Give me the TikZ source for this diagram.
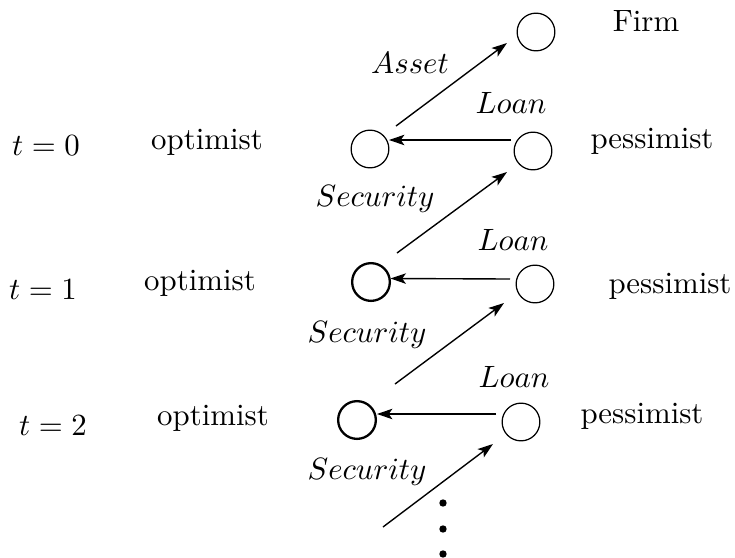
\documentclass[tikz,border=0pt]{standalone}
\usepackage{amsmath}
\usetikzlibrary{arrows.meta,positioning}

\begin{document}
\begin{tikzpicture}[x=0.0114cm,y=-0.0114cm,
  agent/.style={draw,circle,inner sep=0pt,minimum size=0.43cm},
  agentthick/.style={agent,line width=0.75pt},
  flow/.style={line width=0.45pt,-{Stealth[length=5pt,width=3.4pt,inset=1.2pt]}}]
  \useasboundingbox (0,0) rectangle (735,558);

  % the firm
  \node[agent] (firm) at (536,32) {};
  \node (firmlab) at (646,21) {Firm};

  % time rows
  \foreach \i/\tx/\ty/\ox/\oy/\px/\py in {0/46/146/207/142/652/141,
    1/43/290/200/283/670/286, 2/53/426/213/418/642/416} {
    \node (t\i) at (\tx,\ty) {$t=\i$};
    \node (optlab\i) at (\ox,\oy) {optimist};
    \node (peslab\i) at (\px,\py) {pessimist};
  }

  \foreach \i/\ax/\ay/\bx/\by/\st in {0/370/149/533/151/agent,
    1/371/282/535/284/agentthick, 2/357/420/521/422/agentthick} {
    \node[\st] (opt\i) at (\ax,\ay) {};
    \node[agent] (pes\i) at (\bx,\by) {};
  }

  % loans, pessimist to optimist
  \foreach \i/\sx/\sy/\ex/\ey/\lx/\ly in {0/-22/-11/19/-9/511/103,
    1/-25/-5/19.5/-3.5/513/240, 2/-25/-8/20/-6/514/377} {
    \draw[flow] ([shift={(\sx,\sy)}]pes\i.center) -- ([shift={(\ex,\ey)}]opt\i.center);
    \node (loan\i) at (\lx,\ly) {$Loan$};
  }

  % asset and securities
  \draw[flow] ([shift={(26,-23)}]opt0.center) -- ([shift={(-29,11)}]firm.center);
  \node (asset) at (410,63) {$Asset$};

  \draw[flow] ([shift={(26,-29)}]opt1.center) -- ([shift={(-26,21)}]pes0.center);
  \draw[flow] ([shift={(38,-36)}]opt2.center) -- ([shift={(-31,19)}]pes1.center);
  \coordinate (tail) at (383,527);
  \draw[flow] (tail) -- ([shift={(-28,22)}]pes2.center);

  \foreach \i/\lx/\ly in {0/375/199, 1/367/335, 2/367/472}
    \node (sec\i) at (\lx,\ly) {$Security$};

  % and so on
  \foreach \d in {503,529,554}
    \fill (443,\d) circle (1.2pt);

\end{tikzpicture}
\end{document}
